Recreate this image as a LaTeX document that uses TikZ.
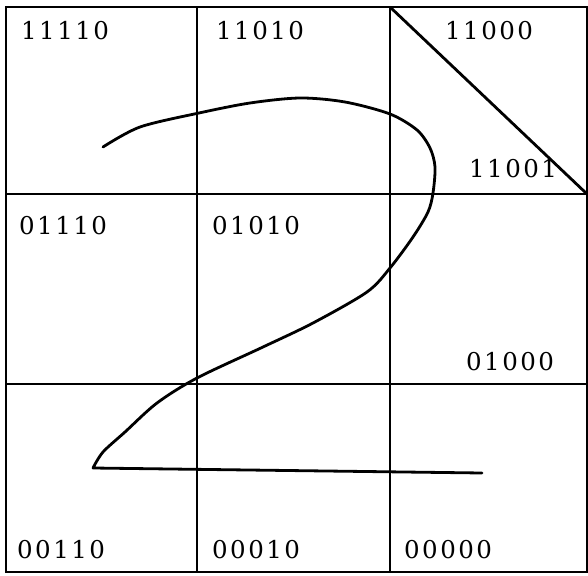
\documentclass[tikz,border=0pt]{standalone}
\usepackage{fontspec}
\setmainfont{DejaVu Serif}[LetterSpace=10]
\begin{document}
\begin{tikzpicture}[x=1pt,y=-1pt,
  grid/.style={line width=2.8pt},
  thin grid/.style={line width=2pt},
  curve/.style={line width=2.8pt,line join=round,line cap=round},
  code/.style={inner sep=0pt,anchor=base west,font=\fontsize{24.5}{28}\selectfont}]
\useasboundingbox (0,0) rectangle (588,575);
% grid
\coordinate (TL) at (6,7);
\coordinate (TR) at (587,7);
\coordinate (BL) at (6,572);
\coordinate (BR) at (587,572);
\coordinate (v1t) at (197,7);  \coordinate (v1b) at (197,572);
\coordinate (v2t) at (390,7);  \coordinate (v2b) at (390,572);
\coordinate (h1l) at (6,194);  \coordinate (h1r) at (587,194);
\coordinate (h2l) at (6,384);  \coordinate (h2r) at (587,384);
\draw[grid] (TL) -- (TR) -- (BR) -- (BL) -- cycle;
\draw[grid] (v1t) -- (v1b);
\draw[grid] (v2t) -- (v2b);
\draw[grid] (h1l) -- (h1r);
\draw[thin grid] (h2l) -- (h2r);
\draw[grid] (v2t) -- (h1r);
% labels
\node[code] (c11110) at (21,40) {11110};
\node[code] (c11010) at (216,40) {11010};
\node[code] (c11000) at (445,40) {11000};
\node[code] (c11001) at (469,177) {11001};
\node[code] (c01110) at (19,234) {01110};
\node[code] (c01010) at (212,234) {01010};
\node[code] (c01000) at (466,370) {01000};
\node[code] (c00110) at (17,558) {00110};
\node[code] (c00010) at (212,558) {00010};
\node[code] (c00000) at (404,558) {00000};
% handwritten 2
\coordinate (cs) at (103,147);
\coordinate (corner) at (93,468);
\coordinate (ce) at (482,473);
\draw[curve] plot[smooth,tension=0.5] coordinates {
  (103,147) (140,127) (199,113) (250,103) (300,98) (345,102) (390,114)
  (417,130) (430,148) (435,167) (433,193) (428,212) (413,237) (390,268)
  (367,292) (313,323) (263,347) (197,378) (157,403) (125,432) (103,452) (93,468)}
  -- (ce);
\end{tikzpicture}
\end{document}
